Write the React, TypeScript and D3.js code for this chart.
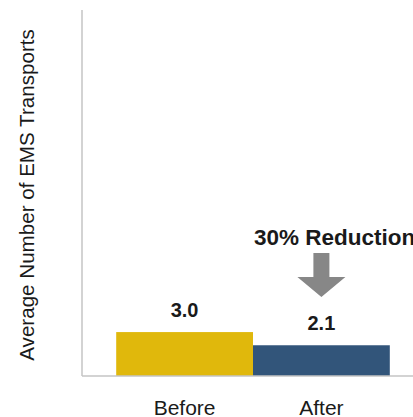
import * as d3 from 'd3';

const categories = ['Before', 'After'];
const values = [3.0, 2.1];
const valueLabels = ['3.0', '2.1'];
const barColors = ['#E0B80C', '#32557A'];
const yTitle = 'Average Number of EMS Transports';
const callout = '30% Reduction';
const yMax = 25;

const W = 413;
const H = 417;
const margin = { left: 82, top: 10, bottom: 41 };
const plotRight = 424;

export default function App() {
  const baseY = H - margin.bottom;

  const x = d3
    .scaleBand()
    .domain(categories)
    .range([margin.left, plotRight])
    .paddingInner(0)
    .paddingOuter(0.25);

  const y = d3.scaleLinear().domain([0, yMax]).range([baseY, margin.top]);

  const afterX = x('After')! + x.bandwidth() / 2;
  const arrowTop = 253;
  const arrowTip = 297;

  return (
    <div style={{ position: 'absolute', left: 0, top: 0 }}>
      <svg width={W} height={H} style={{ display: 'block', fontFamily: 'Liberation Sans, Arial, sans-serif' }}>
        <rect width={W} height={H} fill="#ffffff" />

        {/* axes */}
        <line x1={margin.left} x2={margin.left} y1={margin.top} y2={baseY} stroke="#c4c4c4" strokeWidth={1.5} />

        {categories.map((c, i) => (
          <g key={c}>
            <rect
              x={x(c)!}
              y={y(values[i])}
              width={x.bandwidth()}
              height={baseY - y(values[i])}
              fill={barColors[i]}
            />
            <text
              x={x(c)! + x.bandwidth() / 2}
              y={y(values[i]) - 15}
              textAnchor="middle"
              fontSize={20}
              fontWeight="bold"
              fill="#1a1a1a"
            >
              {valueLabels[i]}
            </text>
            <text
              x={x(c)! + x.bandwidth() / 2}
              y={415}
              textAnchor="middle"
              fontSize={21}
              fill="#1a1a1a"
            >
              {c}
            </text>
          </g>
        ))}

        <line x1={margin.left} x2={W} y1={baseY} y2={baseY} stroke="#c4c4c4" strokeWidth={1.5} />

        {/* y title */}
        <text
          transform={`translate(34,195) rotate(-90)`}
          textAnchor="middle"
          fontSize={20.6}
          fill="#1a1a1a"
        >
          {yTitle}
        </text>

        {/* callout */}
        <text x={254} y={245} fontSize={22.5} fontWeight="bold" fill="#1a1a1a">
          {callout}
        </text>
        <path
          d={`M${afterX - 8},${arrowTop} L${afterX + 8},${arrowTop} L${afterX + 8},277 L${afterX + 24},277 L${afterX},${arrowTip} L${afterX - 24},277 L${afterX - 8},277 Z`}
          fill="#878787"
        />
      </svg>
    </div>
  );
}
